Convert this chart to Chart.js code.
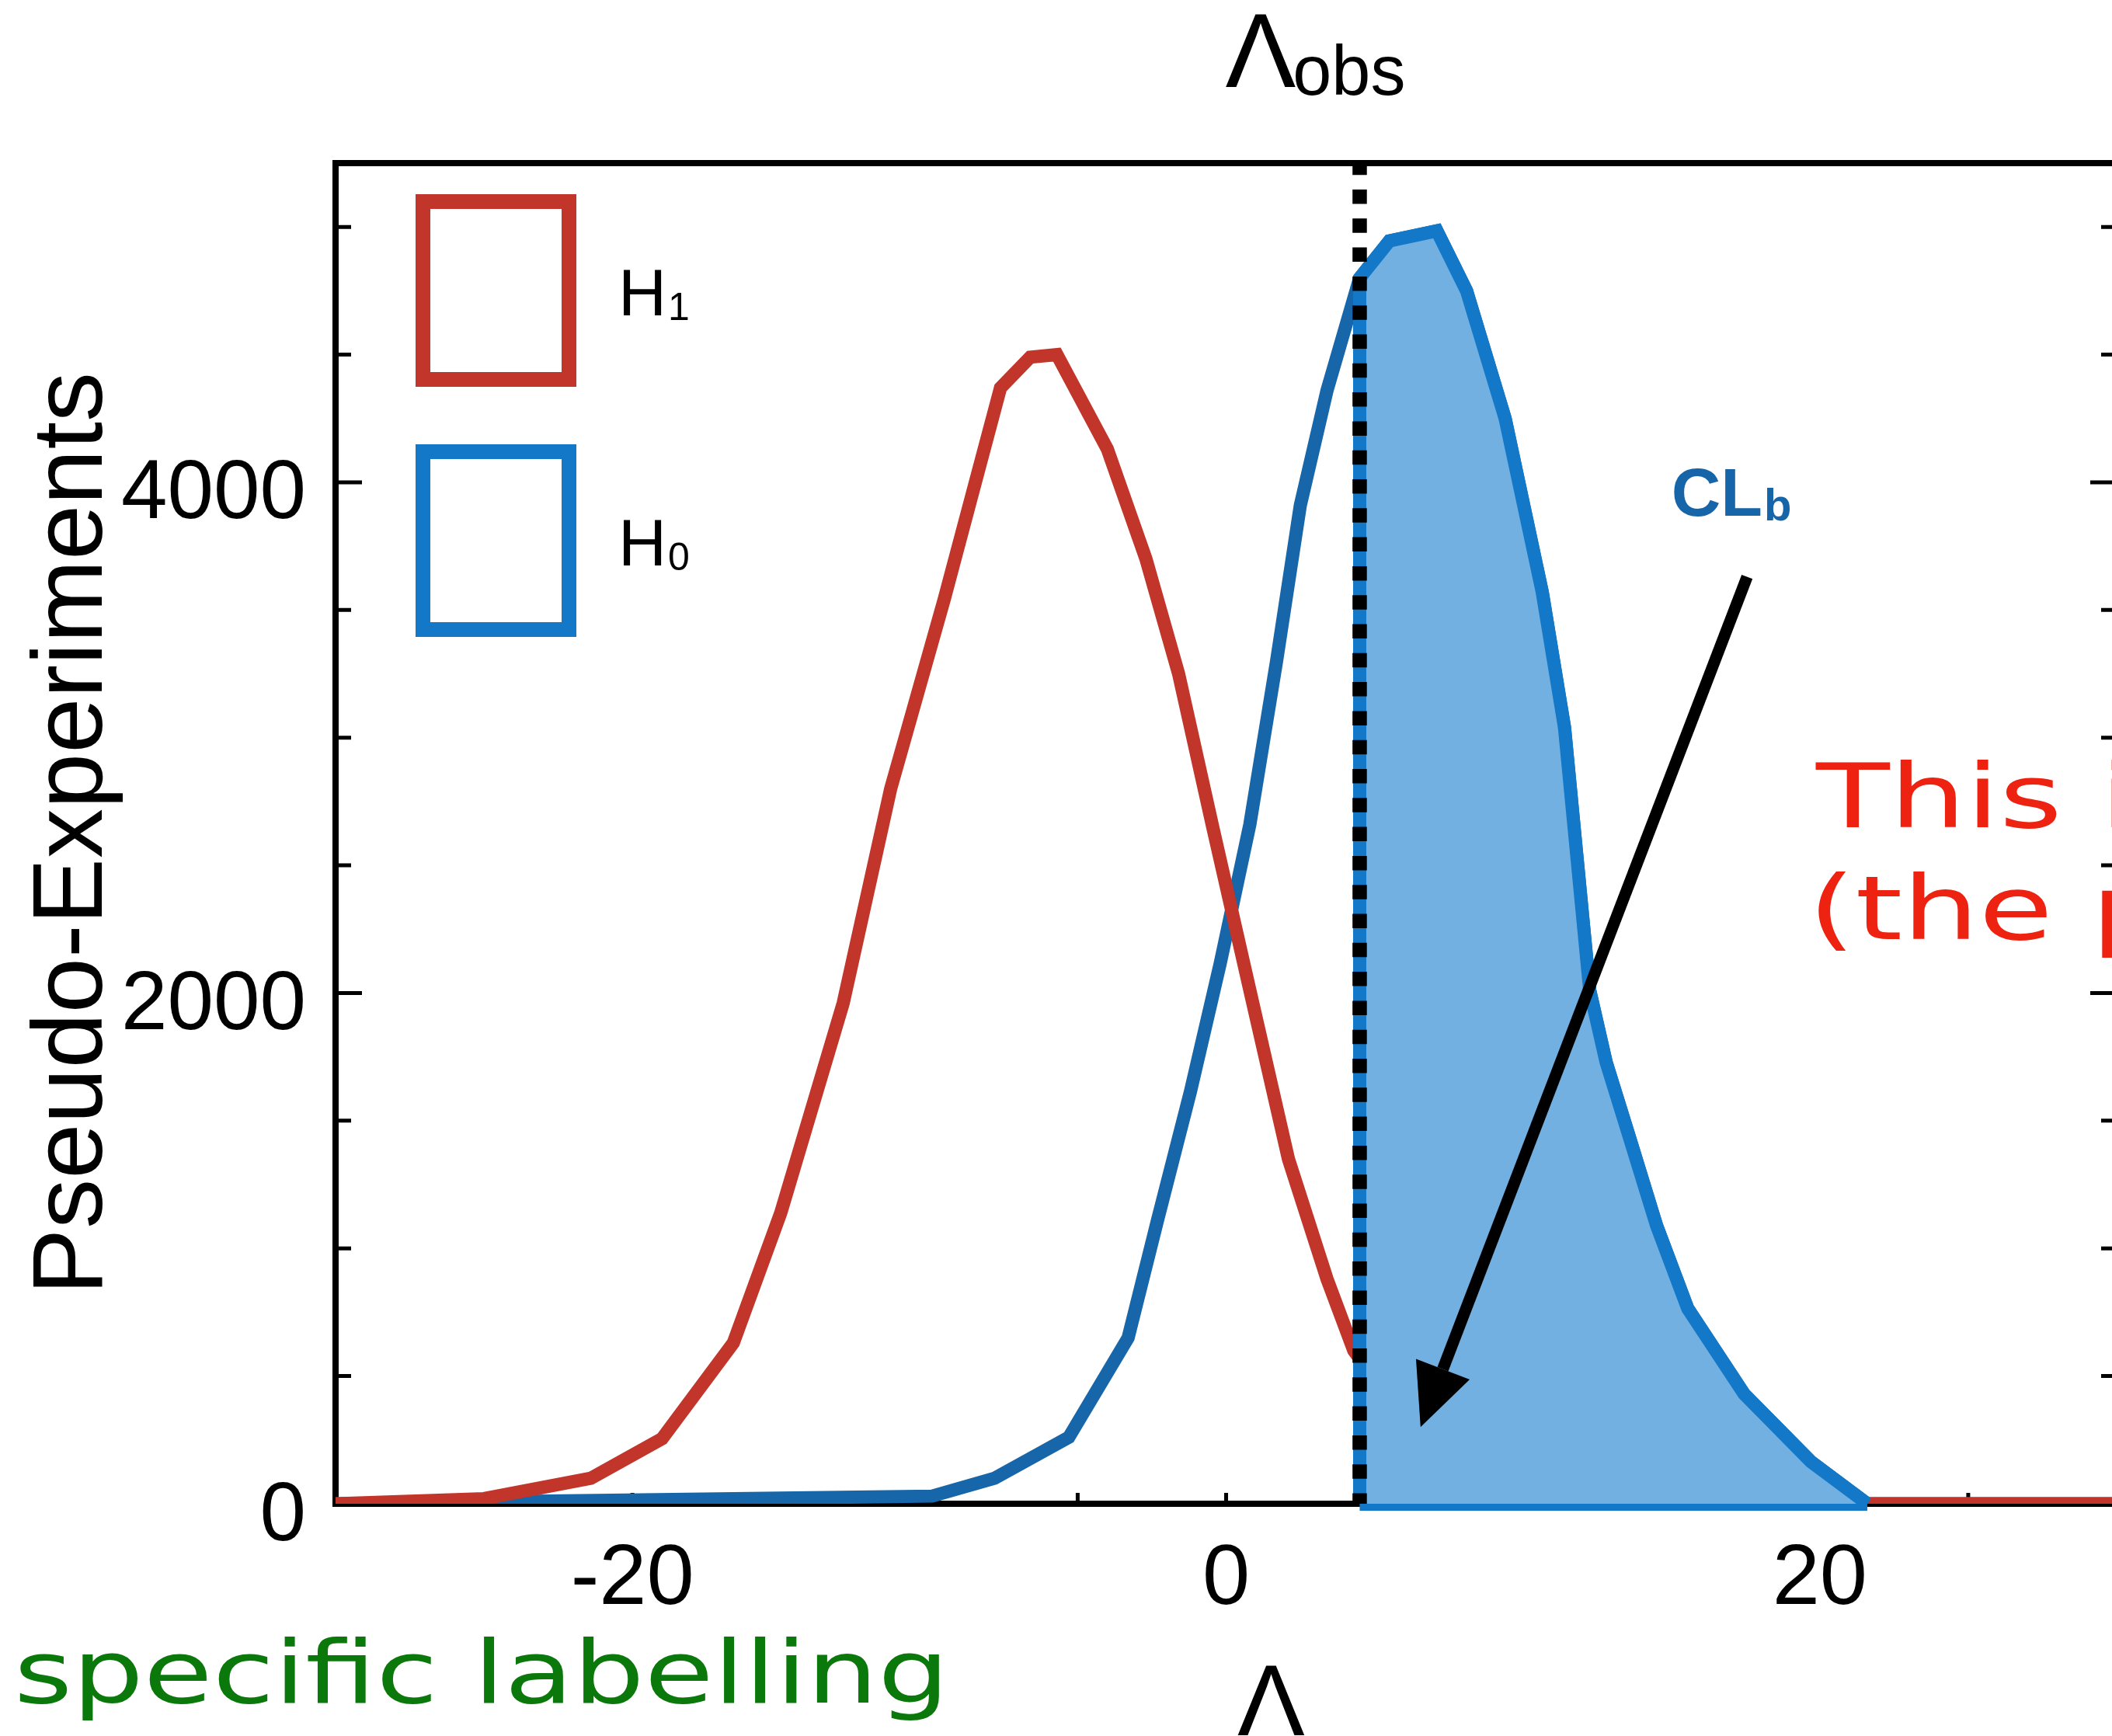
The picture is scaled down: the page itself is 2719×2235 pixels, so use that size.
<!DOCTYPE html>
<html>
<head>
<meta charset="utf-8">
<title>Pseudo-Experiments</title>
<script src="https://cdn.jsdelivr.net/npm/chart.js@4.4.0/dist/chart.umd.min.js"></script>
<style>
  html, body { margin: 0; padding: 0; overflow: hidden; background: #fff; }
  #wrap { width: 2740px; height: 2235px; }
</style>
</head>
<body>
<div id="wrap"><canvas id="chart" width="2740" height="2235"></canvas></div>
<script>
// test statistic vs number of pseudo-experiments
const H1_LAMBDA = [-25.0, -21.4, -19.0, -16.6, -15.0, -12.9, -11.3, -9.5, -7.6, -6.6, -5.7, -4.0, -2.7, -1.6, -0.45, 0.9, 2.1, 3.4, 4.3, 6.5, 8.5, 11.3];
const H1_COUNTS = [20, 100, 255, 630, 1140, 1960, 2800, 3540, 4370, 4490, 4500, 4130, 3700, 3250, 2650, 1960, 1350, 880, 600, 250, 90, 0];

const H0_LAMBDA = [-9.9, -7.8, -5.3, -3.3, -2.3, -1.2, -0.2, 0.8, 1.7, 2.5, 3.4, 4.5, 5.5, 7.1, 8.1, 9.4, 10.65, 11.4, 12.25, 12.8, 13.6, 14.5, 15.55, 17.45, 19.7, 21.6];
const H0_COUNTS = [30, 100, 260, 650, 1115, 1615, 2115, 2660, 3300, 3910, 4360, 4800, 4945, 4985, 4750, 4250, 3570, 3040, 2010, 1730, 1430, 1090, 765, 430, 165, 0];

const LAMBDA_OBS = 4.5;
const X_RANGE = [-30, 30];
const Y_RANGE = [0, 5250];
const X_TICK_LABELS = [-20, 0, 20];
const Y_TICK_LABELS = [0, 2000, 4000];
const X_MINOR_STEP = 5;
const Y_MINOR_STEP = 500;

const FONT = '"Liberation Sans", Arial, sans-serif';
const WIDE = '"DejaVu Sans", sans-serif';

const toPoints = (xs, ys) => xs.map((x, i) => ({ x, y: ys[i] }));
const withTails = pts => [{ x: X_RANGE[0], y: 0 }, ...pts, { x: X_RANGE[1], y: 0 }];

const h1Points = toPoints(H1_LAMBDA, H1_COUNTS);
const h0Points = toPoints(H0_LAMBDA, H0_COUNTS);
// CLb area: H0 to the right of the observed value
const clbPoints = [{ x: LAMBDA_OBS, y: 0 }, ...h0Points.filter(p => p.x >= LAMBDA_OBS).map(p => ({ ...p }))];
const clbBase = [{ x: LAMBDA_OBS, y: 0 }, { x: H0_LAMBDA[H0_LAMBDA.length - 1], y: 0 }];

// box + inward ticks on all sides
const frame = {
    id: 'frame',
    beforeDatasetsDraw(chart) {
        const { ctx, chartArea: a, scales: { x, y } } = chart;
        ctx.save();
        ctx.strokeStyle = '#000';
        ctx.lineWidth = 8;
        ctx.strokeRect(a.left, a.top, a.right - a.left, a.bottom - a.top);
        ctx.lineWidth = 5;
        ctx.beginPath();
        for (let v = Y_RANGE[0]; v <= Y_RANGE[1]; v += Y_MINOR_STEP) {
            const py = y.getPixelForValue(v);
            const len = Y_TICK_LABELS.includes(v) ? 34 : 20;
            ctx.moveTo(a.left, py); ctx.lineTo(a.left + len, py);
            ctx.moveTo(a.right, py); ctx.lineTo(a.right - len, py);
        }
        for (let v = X_RANGE[0]; v <= X_RANGE[1]; v += X_MINOR_STEP) {
            const px = x.getPixelForValue(v);
            ctx.moveTo(px, a.bottom); ctx.lineTo(px, a.bottom - 14);
        }
        ctx.stroke();
        ctx.restore();
    }
};

function stretchedText(ctx, text, px, py, sx) {
    ctx.save();
    ctx.translate(px, py);
    ctx.scale(sx, 1);
    ctx.fillText(text, 0, 0);
    ctx.restore();
}

// legend, labels, arrow and the free text
const notes = {
    id: 'notes',
    afterDraw(chart) {
        const { ctx, chartArea: a, scales: { x, y } } = chart;
        ctx.save();
        ctx.textAlign = 'left';
        ctx.textBaseline = 'alphabetic';

        // legend boxes
        chart.data.datasets.filter(d => d.legendColor).forEach((d, i) => {
            const top = a.top + 49.5 + i * 322;
            ctx.strokeStyle = d.legendColor;
            ctx.lineWidth = 19;
            ctx.strokeRect(a.left + 112.5, top, 188, 229);
            ctx.fillStyle = '#000';
            ctx.font = '86px ' + FONT;
            const tx = a.left + 364, ty = top + 146.5;
            ctx.fillText(d.label[0], tx, ty);
            const w = ctx.measureText(d.label[0]).width;
            ctx.font = '50px ' + FONT;
            ctx.fillText(d.label.slice(1), tx + w + 2, ty + 6);
        });

        // CLb label
        ctx.fillStyle = '#1565a8';
        ctx.font = 'bold 88px ' + FONT;
        const cx = x.getPixelForValue(15), cy = y.getPixelForValue(3870);
        ctx.fillText('CL', cx, cy);
        const cw = ctx.measureText('CL').width;
        ctx.font = 'bold 58px ' + FONT;
        ctx.fillText('b', cx + cw + 2, cy + 6);

        // arrow to the CLb area
        const x0 = x.getPixelForValue(17.55), y0 = y.getPixelForValue(3630);
        const x1 = x.getPixelForValue(6.55), y1 = y.getPixelForValue(300);
        const ang = Math.atan2(y1 - y0, x1 - x0);
        const headLen = 80, headW = 74;
        const bx = x1 - headLen * Math.cos(ang), by = y1 - headLen * Math.sin(ang);
        ctx.strokeStyle = '#000';
        ctx.fillStyle = '#000';
        ctx.lineWidth = 15;
        ctx.beginPath();
        ctx.moveTo(x0, y0);
        ctx.lineTo(bx, by);
        ctx.stroke();
        ctx.beginPath();
        ctx.moveTo(x1, y1);
        ctx.lineTo(bx + headW / 2 * Math.sin(ang), by - headW / 2 * Math.cos(ang));
        ctx.lineTo(bx - headW / 2 * Math.sin(ang), by + headW / 2 * Math.cos(ang));
        ctx.closePath();
        ctx.fill();

        // Lambda_obs above the dashed line
        const lx = x.getPixelForValue(LAMBDA_OBS);
        ctx.fillStyle = '#000';
        ctx.font = '136px ' + FONT;
        ctx.fillText('Λ', lx - 173, 112);
        const lw = ctx.measureText('Λ').width;
        ctx.font = '90px ' + FONT;
        ctx.fillText('obs', lx - 173 + lw - 4, 122);

        // x axis title
        ctx.textAlign = 'center';
        ctx.font = '130px ' + FONT;
        ctx.fillText('Λ', (a.left + a.right) / 2 + 58, 2234);
        ctx.textAlign = 'left';

        // red note, running off the right edge
        ctx.fillStyle = '#ee2210';
        ctx.font = '114px ' + WIDE;
        stretchedText(ctx, 'This is', 2338, 1065, 1.36);
        stretchedText(ctx, '(the plot)', 2328, 1209, 1.36);

        // green note
        ctx.fillStyle = '#0a780a';
        ctx.font = '113px ' + WIDE;
        const gw = ctx.measureText('specific labelling').width;
        stretchedText(ctx, 'specific labelling', 18, 2192, 1204 / gw);

        ctx.restore();
    }
};

new Chart(document.getElementById('chart'), {
    type: 'line',
    data: {
        datasets: [
            {
                label: 'Λobs',
                data: [{ x: LAMBDA_OBS, y: Y_RANGE[1] }, { x: LAMBDA_OBS, y: 0 }],
                borderColor: '#000',
                borderWidth: 18.5,
                borderDash: [18.5, 18.8],
                borderDashOffset: 3.3,
                borderCapStyle: 'butt',
                pointRadius: 0,
                clip: false,
                order: 0
            },
            {
                label: 'CLb',
                data: clbPoints,
                borderColor: '#1378c8',
                backgroundColor: '#72b0e2',
                fill: 'origin',
                borderWidth: 17,
                borderJoinStyle: 'miter',
                pointRadius: 0,
                clip: false,
                order: 1
            },
            {
                label: 'CLb base',
                data: clbBase,
                borderColor: '#1378c8',
                borderWidth: 18,
                pointRadius: 0,
                clip: false,
                order: 1
            },
            {
                label: 'H1',
                data: withTails(h1Points),
                borderColor: '#c1352a',
                legendColor: '#c1352a',
                borderWidth: 17,
                borderJoinStyle: 'miter',
                pointRadius: 0,
                order: 2
            },
            {
                label: 'H0',
                data: withTails(h0Points),
                borderColor: '#1666a9',
                legendColor: '#1378c8',
                borderWidth: 17,
                borderJoinStyle: 'miter',
                pointRadius: 0,
                order: 3
            }
        ]
    },
    options: {
        responsive: false,
        animation: false,
        devicePixelRatio: 1,
        events: [],
        layout: { padding: { top: 210, right: 15, left: 0, bottom: 0 } },
        plugins: { legend: { display: false }, tooltip: { enabled: false } },
        scales: {
            x: {
                type: 'linear',
                min: X_RANGE[0],
                max: X_RANGE[1],
                grid: { display: false },
                border: { display: false },
                afterBuildTicks: s => { s.ticks = X_TICK_LABELS.map(v => ({ value: v })); },
                afterFit: s => { s.height = 299; },
                ticks: {
                    color: '#000',
                    padding: 25,
                    maxRotation: 0,
                    font: { family: FONT, size: 110 },
                    callback: v => String(v)
                }
            },
            y: {
                min: Y_RANGE[0],
                max: Y_RANGE[1],
                grid: { display: false },
                border: { display: false },
                afterBuildTicks: s => { s.ticks = Y_TICK_LABELS.map(v => ({ value: v })); },
                afterFit: s => { s.width = 432; },
                ticks: {
                    color: '#000',
                    padding: 30,
                    labelOffset: 17,
                    font: { family: FONT, size: 107 },
                    callback: v => String(v)
                },
                title: {
                    display: true,
                    text: 'Pseudo-Experiments',
                    color: '#000',
                    padding: { top: 19, bottom: 0 },
                    font: { family: FONT, size: 128 }
                }
            }
        }
    },
    plugins: [frame, notes]
});
</script>
</body>
</html>
